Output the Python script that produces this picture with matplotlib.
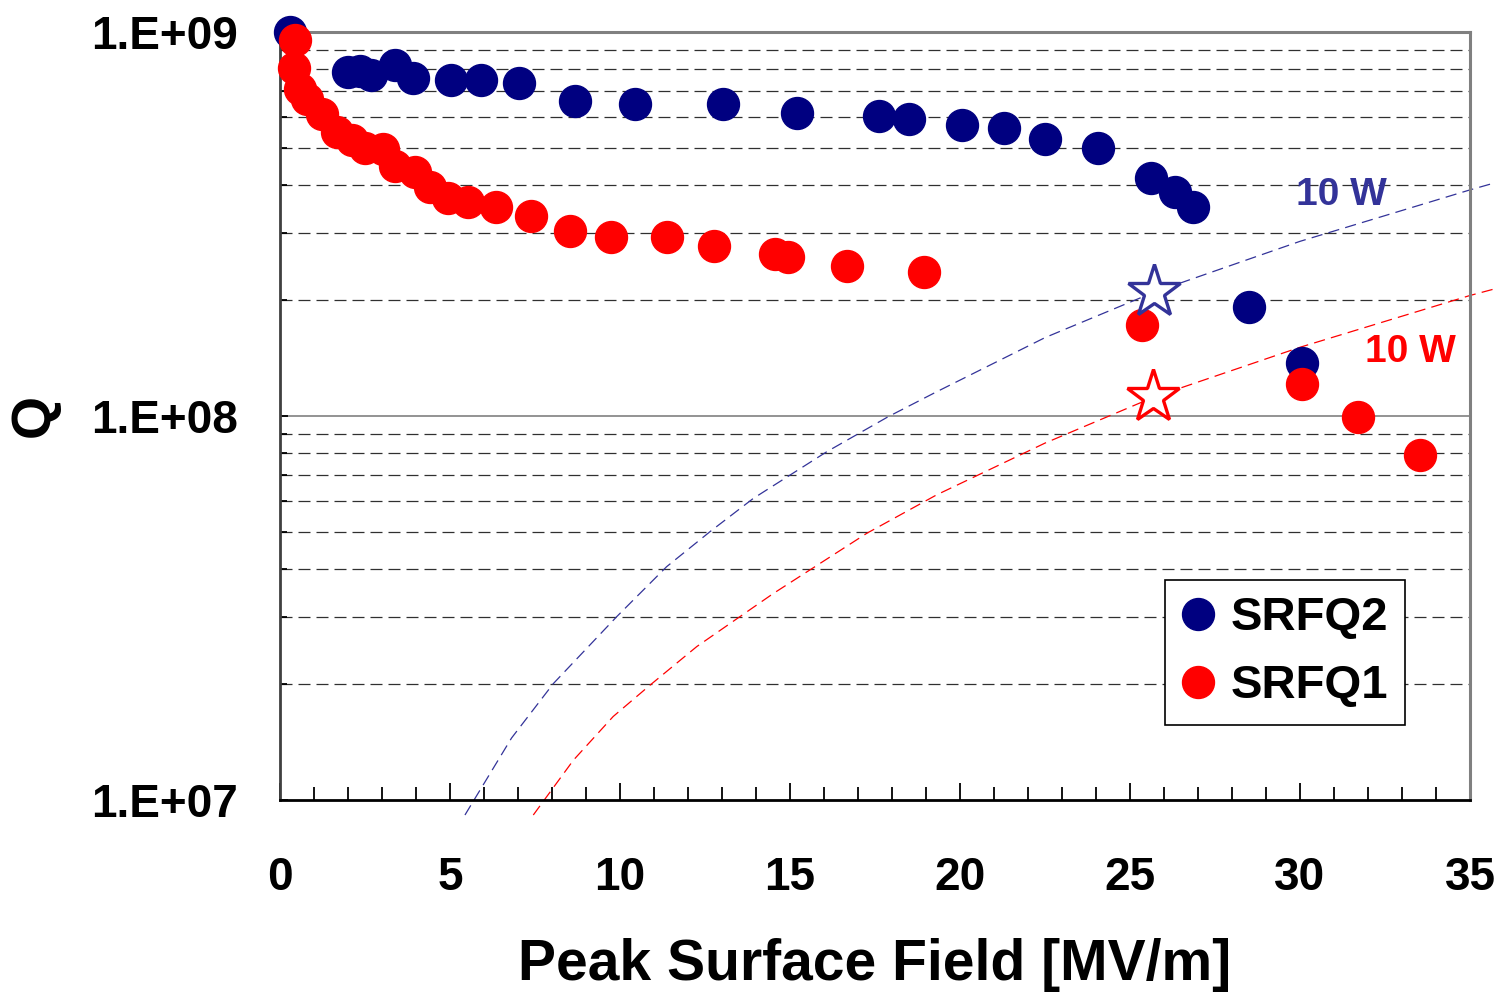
import numpy as np
import matplotlib
matplotlib.use("Agg")
import matplotlib.pyplot as plt
from matplotlib.ticker import FixedLocator, MultipleLocator, LogLocator, NullFormatter

plt.rcParams['font.family'] = ['Liberation Sans', 'DejaVu Sans']
plt.rcParams['font.weight'] = 'bold'

# ---------------- data ----------------
srfq2_E = [0.29, 2.0, 2.35, 2.68, 3.38, 3.91, 5.03, 5.91, 7.03, 8.68, 10.44, 13.03,
           15.21, 17.62, 18.5, 20.06, 21.29, 22.5, 24.06, 25.62, 26.32, 26.85, 28.5, 30.06]
srfq2_Q = [1.0e9, 7.87e8, 7.92e8, 7.73e8, 8.2e8, 7.59e8, 7.5e8, 7.5e8, 7.36e8, 6.61e8,
           6.49e8, 6.49e8, 6.15e8, 6.04e8, 5.93e8, 5.73e8, 5.62e8, 5.26e8, 4.99e8,
           4.17e8, 3.83e8, 3.5e8, 1.92e8, 1.37e8]

srfq1_E = [0.44, 0.41, 0.59, 0.79, 1.24, 1.68, 2.12, 2.5, 3.03, 3.38, 3.97, 4.41, 4.94,
           5.53, 6.35, 7.38, 8.53, 9.74, 11.38, 12.76, 14.56, 14.94, 16.68, 18.94,
           25.35, 30.06, 31.71, 33.53]
srfq1_Q = [9.53e8, 8.06e8, 7.1e8, 6.69e8, 6.11e8, 5.49e8, 5.23e8, 4.99e8, 4.96e8,
           4.48e8, 4.32e8, 3.95e8, 3.7e8, 3.61e8, 3.5e8, 3.32e8, 3.03e8, 2.92e8,
           2.92e8, 2.77e8, 2.64e8, 2.6e8, 2.46e8, 2.37e8, 1.73e8, 1.21e8, 9.94e7, 7.91e7]

# 10 W lines
p10_blue_E = [5.44, 6.81, 8.04, 9.90, 11.37, 12.65, 13.92, 16.08, 17.89, 19.26, 22.5, 25.7, 30.0, 35.0, 35.7]
p10_blue_Q = [9.14e6, 1.45e7, 2.01e7, 3.0e7, 4.05e7, 5.0e7, 6.1e7, 8.07e7, 9.96e7, 1.15e8,
              1.6e8, 2.1e8, 2.85e8, 3.88e8, 4.04e8]
p10_red_E = [7.45, 8.63, 9.80, 10.88, 12.26, 14.51, 17.26, 19.31, 22.5, 25.7, 30.0, 35.0, 35.7]
p10_red_Q = [9.14e6, 1.27e7, 1.65e7, 1.99e7, 2.51e7, 3.45e7, 4.95e7, 6.23e7, 8.5e7,
             1.12e8, 1.51e8, 2.06e8, 2.14e8]

star_E = [25.7, 25.68]
star_Q = [2.1e8, 1.12e8]

xticks = [0, 5, 10, 15, 20, 25, 30, 35]
yticks = [1e7, 1e8, 1e9]
ylabels = ["1.E+07", "1.E+08", "1.E+09"]

navy = "#000080"
red = "#FF0000"
lineblue = "#333399"

fig = plt.figure(figsize=(15.02, 9.92), dpi=100)
ax = fig.add_axes([280/1502, 1-800/992, 1190/1502, 768/992])
ax.set_yscale('log')
ax.set_xlim(0, 35)
ax.set_ylim(1e7, 1e9)

# grid
for d in [1e7, 1e8]:
    for m in range(2, 10):
        ax.axhline(m*d, color='#303030', lw=0.9, ls=(0, (9.6, 4.8)), zorder=1)
ax.axhline(1e8, color='#808080', lw=1.2, zorder=1)

# 10 W curves
ax.plot(p10_blue_E, p10_blue_Q, color=lineblue, lw=0.9, ls=(0, (9, 5)), clip_on=False, zorder=2)
ax.plot(p10_red_E, p10_red_Q, color=red, lw=0.9, ls=(0, (9, 5)), clip_on=False, zorder=2)

ax.plot(srfq2_E, srfq2_Q, 'o', ms=23, color=navy, mec=navy, ls='none', label='SRFQ2', clip_on=False, zorder=3)
ax.plot(srfq1_E, srfq1_Q, 'o', ms=23, color=red, mec=red, ls='none', label='SRFQ1', clip_on=False, zorder=4)

ax.plot(star_E[0], star_Q[0], '*', ms=40, mfc='white', mec=lineblue, mew=2.4, zorder=5)
ax.plot(star_E[1], star_Q[1], '*', ms=40, mfc='white', mec=red, mew=2.4, zorder=5)

ax.text(31.23, 3.76e8, "10 W", color=lineblue, fontsize=28, fontweight='bold', ha='center', va='center')
ax.text(33.24, 1.468e8, "10 W", color=red, fontsize=28, fontweight='bold', ha='center', va='center')

# axes styling
ax.xaxis.set_major_locator(FixedLocator(xticks))
ax.xaxis.set_minor_locator(MultipleLocator(1))
ax.set_xticklabels([str(v) for v in xticks], fontsize=33, fontweight='bold')
ax.yaxis.set_major_locator(FixedLocator(yticks))
ax.set_yticklabels(ylabels, fontsize=33, fontweight='bold')
ax.yaxis.set_minor_locator(LogLocator(base=10, subs=np.arange(2, 10)))
ax.yaxis.set_minor_formatter(NullFormatter())
ax.tick_params(axis='x', which='major', direction='in', length=12, width=1.3, pad=40, color='black')
ax.tick_params(axis='x', which='minor', direction='in', length=9.5, width=1.3, color='black')
ax.tick_params(axis='y', which='major', direction='in', length=6, width=1.3, pad=30)
ax.tick_params(axis='y', which='minor', direction='in', length=5, width=1.3)

ax.spines['left'].set_color('#404040')
ax.spines['left'].set_linewidth(2)
ax.spines['bottom'].set_color('black')
ax.spines['bottom'].set_linewidth(2)
ax.spines['top'].set_color('#808080')
ax.spines['top'].set_linewidth(2.2)
ax.spines['right'].set_color('#808080')
ax.spines['right'].set_linewidth(2.2)

ax.set_xlabel("Peak Surface Field [MV/m]", fontsize=41, fontweight='bold', labelpad=28)
fig.text(35/1502, 1-415/992, "Q", fontsize=40, fontweight='bold', rotation=90, ha='center', va='center')

leg = ax.legend(loc='upper right', bbox_to_anchor=(0.9455, 0.2865), borderaxespad=0, fontsize=34,
                frameon=True, fancybox=False, edgecolor='black', framealpha=1, handlelength=0.7,
                handletextpad=0.35, borderpad=0.35, labelspacing=0.5, markerscale=1.0)
leg.get_frame().set_linewidth(1.2)
for t in leg.get_texts():
    t.set_fontweight('bold')

fig.savefig("out.png", dpi=100)
